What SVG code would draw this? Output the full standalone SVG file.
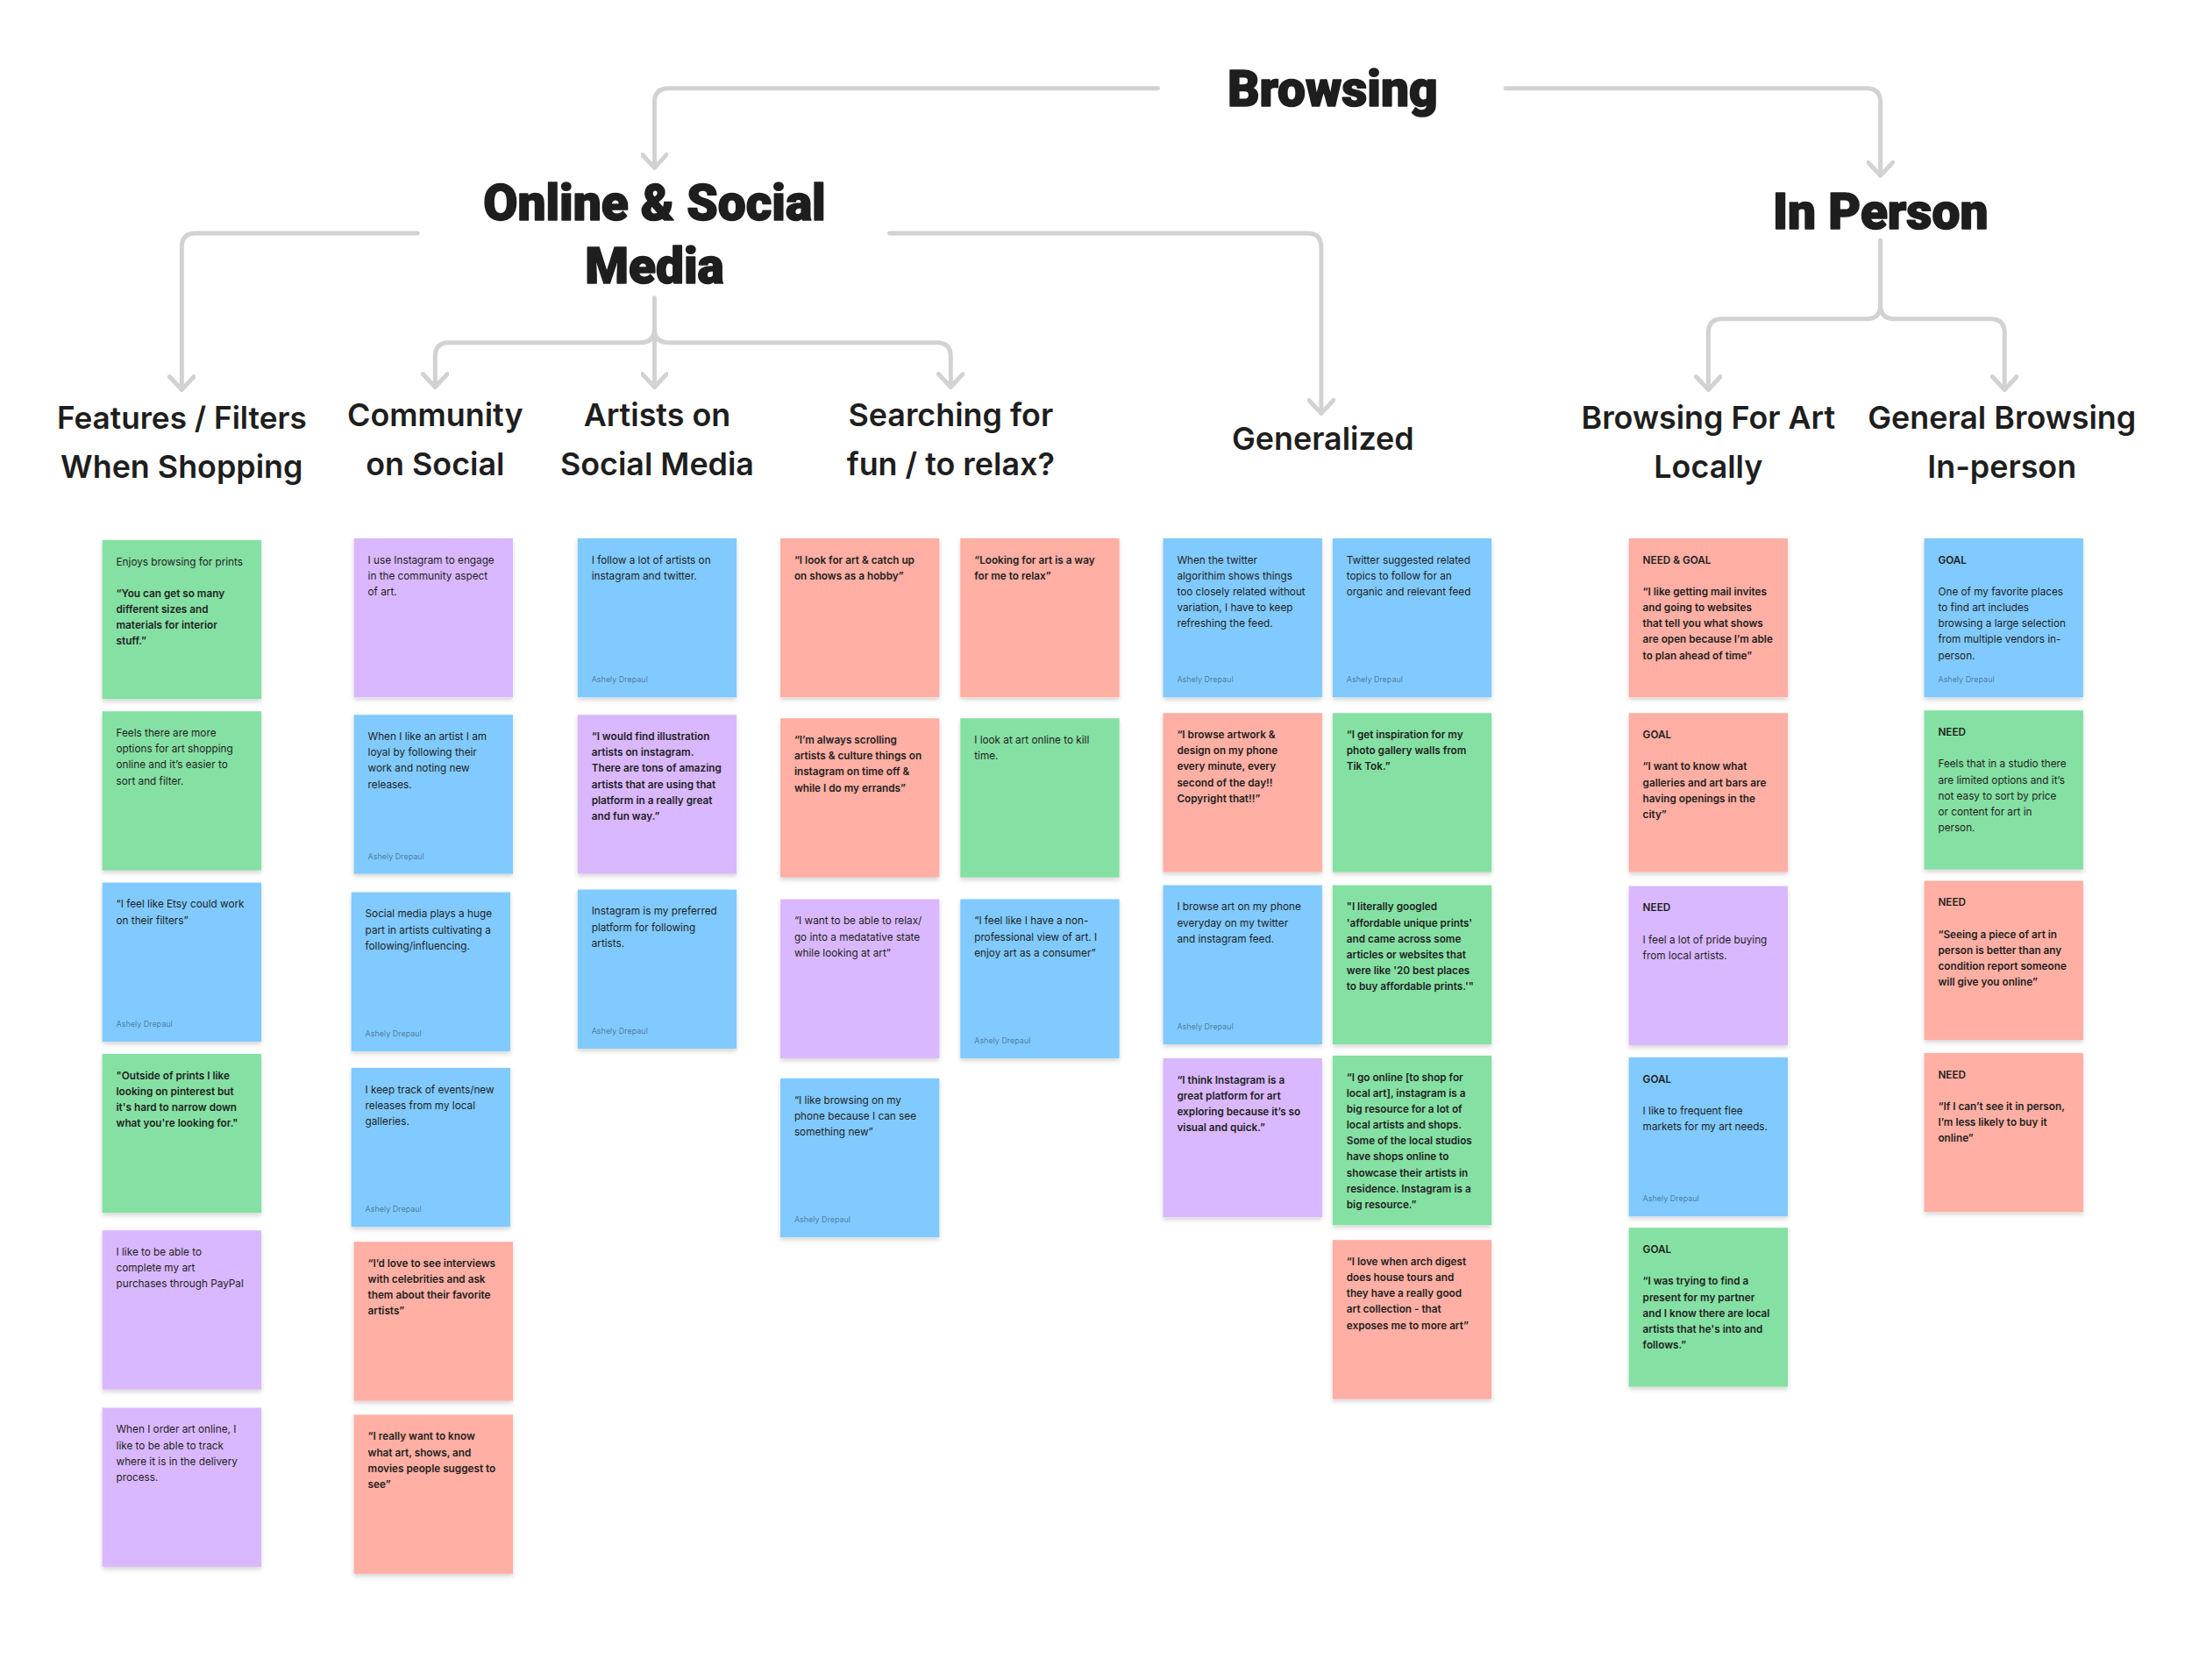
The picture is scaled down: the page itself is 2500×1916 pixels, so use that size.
<svg xmlns="http://www.w3.org/2000/svg" width="2500" height="1916" viewBox="0 0 2500 1916">
<defs>
<style>
.bg{fill:#ffffff}
.c{fill:none;stroke:#d2d2d2;stroke-width:5;stroke-linecap:round;stroke-linejoin:round}
.h1{font-family:Roboto,"Liberation Sans",sans-serif;font-weight:900;font-size:57px;fill:#1e1e1e;stroke:#1e1e1e;stroke-width:1.6;stroke-linejoin:round;text-anchor:middle}
.h2{font-family:Inter,"Liberation Sans",sans-serif;font-weight:600;font-size:36px;fill:#1e1e1e;text-anchor:middle}
.t{font-family:Inter,"Liberation Sans",sans-serif;font-size:11.8px;fill:#1e1e1e}
.b{font-weight:600}
.a{font-family:Inter,"Liberation Sans",sans-serif;font-size:9px;fill:#000;fill-opacity:.42}
.gr{fill:#85E0A3}
.bl{fill:#80CAFF}
.pu{fill:#D9B8FF}
.re{fill:#FFAFA3}
.n{filter:url(#sh)}
</style>
<filter id="sh" x="-10%" y="-10%" width="120%" height="125%">
<feDropShadow dx="0" dy="3" stdDeviation="2.5" flood-color="#000" flood-opacity="0.16"/>
</filter>
<marker id="ar" markerUnits="userSpaceOnUse" viewBox="-2 -16 24 32" refX="18" refY="0" markerWidth="24" markerHeight="32" orient="auto">
<path d="M3,-14 L18,0 L3,14" fill="none" stroke="#d2d2d2" stroke-width="5" stroke-linecap="round" stroke-linejoin="round"/>
</marker>
</defs>
<rect class="bg" x="0" y="0" width="2500" height="1916"/>
<g transform="scale(0.9966)">
<g id="connectors">
<path class="c" d="M1325,101 H765 Q749,101 749,117 V192" marker-end="url(#ar)"/>
<path class="c" d="M1723,101 H2136 Q2152,101 2152,117 V201" marker-end="url(#ar)"/>
<path class="c" d="M478,267 H224 Q208,267 208,283 V446" marker-end="url(#ar)"/>
<path class="c" d="M1018,267 H1496 Q1512,267 1512,283 V473" marker-end="url(#ar)"/>
<path class="c" d="M749,341 V443" marker-end="url(#ar)"/>
<path class="c" d="M749,376 Q749,392 733,392 H514 Q498,392 498,408 V443" marker-end="url(#ar)"/>
<path class="c" d="M749,376 Q749,392 765,392 H1072 Q1088,392 1088,408 V443" marker-end="url(#ar)"/>
<path class="c" d="M2152,275 V349"/>
<path class="c" d="M2152,349 Q2152,365 2136,365 H1971 Q1955,365 1955,381 V446" marker-end="url(#ar)"/>
<path class="c" d="M2152,349 Q2152,365 2168,365 H2278 Q2294,365 2294,381 V446" marker-end="url(#ar)"/>
</g>

<g id="browsing"><text class="h1" x="1525" y="121">Browsing</text></g>
<g id="online-social"><text class="h1" x="749" y="252">Online &amp; Social</text><text class="h1" x="749" y="324">Media</text></g>
<g id="in-person"><text class="h1" x="2152" y="262">In Person</text></g>

<g id="features"><text class="h2" x="208" y="491" style="font-size:35.3px">Features / Filters</text><text class="h2" x="208" y="547">When Shopping</text></g>
<g id="community"><text class="h2" x="498" y="488">Community</text><text class="h2" x="498" y="544">on Social</text></g>
<g id="artists"><text class="h2" x="752" y="488">Artists on</text><text class="h2" x="752" y="544">Social Media</text></g>
<g id="searching"><text class="h2" x="1088" y="488">Searching for</text><text class="h2" x="1088" y="544">fun / to relax?</text></g>
<g id="generalized"><text class="h2" x="1514" y="515">Generalized</text></g>
<g id="locally"><text class="h2" x="1955" y="491">Browsing For Art</text><text class="h2" x="1955" y="547">Locally</text></g>
<g id="general-in-person"><text class="h2" x="2291" y="491">General Browsing</text><text class="h2" x="2291" y="547">In-person</text></g>

<!-- Column 1 -->
<g id="n1-1" transform="translate(117,618)"><rect class="n gr" width="182" height="182"/><text class="t"><tspan x="16" y="29">Enjoys browsing for prints</tspan><tspan class="b" x="16" y="65.4">“You can get so many</tspan><tspan class="b" x="16" y="83.6">different sizes and</tspan><tspan class="b" x="16" y="101.8">materials for interior</tspan><tspan class="b" x="16" y="120">stuff.”</tspan></text></g>
<g id="n1-2" transform="translate(117,814)"><rect class="n gr" width="182" height="182"/><text class="t"><tspan x="16" y="29">Feels there are more</tspan><tspan x="16" y="47.2">options for art shopping</tspan><tspan x="16" y="65.4">online and it’s easier to</tspan><tspan x="16" y="83.6">sort and filter.</tspan></text></g>
<g id="n1-3" transform="translate(117,1010)"><rect class="n bl" width="182" height="182"/><text class="t"><tspan x="16" y="29">“I feel like Etsy could work</tspan><tspan x="16" y="47.2">on their filters”</tspan></text><text class="a" x="16" y="165">Ashely Drepaul</text></g>
<g id="n1-4" transform="translate(117,1206)"><rect class="n gr" width="182" height="182"/><text class="t b"><tspan x="16" y="29">"Outside of prints I like</tspan><tspan x="16" y="47.2">looking on pinterest but</tspan><tspan x="16" y="65.4">it's hard to narrow down</tspan><tspan x="16" y="83.6">what you're looking for."</tspan></text></g>
<g id="n1-5" transform="translate(117,1408)"><rect class="n pu" width="182" height="182"/><text class="t"><tspan x="16" y="29">I like to be able to</tspan><tspan x="16" y="47.2">complete my art</tspan><tspan x="16" y="65.4">purchases through PayPal</tspan></text></g>
<g id="n1-6" transform="translate(117,1611)"><rect class="n pu" width="182" height="182"/><text class="t"><tspan x="16" y="29">When I order art online, I</tspan><tspan x="16" y="47.2">like to be able to track</tspan><tspan x="16" y="65.4">where it is in the delivery</tspan><tspan x="16" y="83.6">process.</tspan></text></g>

<!-- Column 2 -->
<g id="n2-1" transform="translate(405,616)"><rect class="n pu" width="182" height="182"/><text class="t"><tspan x="16" y="29">I use Instagram to engage</tspan><tspan x="16" y="47.2">in the community aspect</tspan><tspan x="16" y="65.4">of art.</tspan></text></g>
<g id="n2-2" transform="translate(405,818)"><rect class="n bl" width="182" height="182"/><text class="t"><tspan x="16" y="29">When I like an artist I am</tspan><tspan x="16" y="47.2">loyal by following their</tspan><tspan x="16" y="65.4">work and noting new</tspan><tspan x="16" y="83.6">releases.</tspan></text><text class="a" x="16" y="165">Ashely Drepaul</text></g>
<g id="n2-3" transform="translate(402,1021)"><rect class="n bl" width="182" height="182"/><text class="t"><tspan x="16" y="29">Social media plays a huge</tspan><tspan x="16" y="47.2">part in artists cultivating a</tspan><tspan x="16" y="65.4">following/influencing.</tspan></text><text class="a" x="16" y="165">Ashely Drepaul</text></g>
<g id="n2-4" transform="translate(402,1222)"><rect class="n bl" width="182" height="182"/><text class="t"><tspan x="16" y="29">I keep track of events/new</tspan><tspan x="16" y="47.2">releases from my local</tspan><tspan x="16" y="65.4">galleries.</tspan></text><text class="a" x="16" y="165">Ashely Drepaul</text></g>
<g id="n2-5" transform="translate(405,1421)"><rect class="n re" width="182" height="182"/><text class="t b"><tspan x="16" y="29">“I’d love to see interviews</tspan><tspan x="16" y="47.2">with celebrities and ask</tspan><tspan x="16" y="65.4">them about their favorite</tspan><tspan x="16" y="83.6">artists”</tspan></text></g>
<g id="n2-6" transform="translate(405,1619)"><rect class="n re" width="182" height="182"/><text class="t b"><tspan x="16" y="29">“I really want to know</tspan><tspan x="16" y="47.2">what art, shows, and</tspan><tspan x="16" y="65.4">movies people suggest to</tspan><tspan x="16" y="83.6">see”</tspan></text></g>

<!-- Column 3 -->
<g id="n3-1" transform="translate(661,616)"><rect class="n bl" width="182" height="182"/><text class="t"><tspan x="16" y="29">I follow a lot of artists on</tspan><tspan x="16" y="47.2">instagram and twitter.</tspan></text><text class="a" x="16" y="165">Ashely Drepaul</text></g>
<g id="n3-2" transform="translate(661,818)"><rect class="n pu" width="182" height="182"/><text class="t b"><tspan x="16" y="29">“I would find illustration</tspan><tspan x="16" y="47.2">artists on instagram.</tspan><tspan x="16" y="65.4">There are tons of amazing</tspan><tspan x="16" y="83.6">artists that are using that</tspan><tspan x="16" y="101.8">platform in a really great</tspan><tspan x="16" y="120">and fun way.”</tspan></text></g>
<g id="n3-3" transform="translate(661,1018)"><rect class="n bl" width="182" height="182"/><text class="t"><tspan x="16" y="29">Instagram is my preferred</tspan><tspan x="16" y="47.2">platform for following</tspan><tspan x="16" y="65.4">artists.</tspan></text><text class="a" x="16" y="165">Ashely Drepaul</text></g>

<!-- Column 4 -->
<g id="n4-1" transform="translate(893,616)"><rect class="n re" width="182" height="182"/><text class="t b"><tspan x="16" y="29">“I look for art &amp; catch up</tspan><tspan x="16" y="47.2">on shows as a hobby”</tspan></text></g>
<g id="n4-2" transform="translate(893,822)"><rect class="n re" width="182" height="182"/><text class="t b"><tspan x="16" y="29">“I’m always scrolling</tspan><tspan x="16" y="47.2">artists &amp; culture things on</tspan><tspan x="16" y="65.4">instagram on time off &amp;</tspan><tspan x="16" y="83.6">while I do my errands”</tspan></text></g>
<g id="n4-3" transform="translate(893,1029)"><rect class="n pu" width="182" height="182"/><text class="t"><tspan x="16" y="29">“I want to be able to relax/</tspan><tspan x="16" y="47.2">go into a medatative state</tspan><tspan x="16" y="65.4">while looking at art”</tspan></text></g>
<g id="n4-4" transform="translate(893,1234)"><rect class="n bl" width="182" height="182"/><text class="t"><tspan x="16" y="29">“I like browsing on my</tspan><tspan x="16" y="47.2">phone because I can see</tspan><tspan x="16" y="65.4">something new”</tspan></text><text class="a" x="16" y="165">Ashely Drepaul</text></g>
<g id="n4-5" transform="translate(1099,616)"><rect class="n re" width="182" height="182"/><text class="t b"><tspan x="16" y="29">“Looking for art is a way</tspan><tspan x="16" y="47.2">for me to relax”</tspan></text></g>
<g id="n4-6" transform="translate(1099,822)"><rect class="n gr" width="182" height="182"/><text class="t"><tspan x="16" y="29">I look at art online to kill</tspan><tspan x="16" y="47.2">time.</tspan></text></g>
<g id="n4-7" transform="translate(1099,1029)"><rect class="n bl" width="182" height="182"/><text class="t"><tspan x="16" y="29">“I feel like I have a non-</tspan><tspan x="16" y="47.2">professional view of art. I</tspan><tspan x="16" y="65.4">enjoy art as a consumer”</tspan></text><text class="a" x="16" y="165">Ashely Drepaul</text></g>

<!-- Column 5 -->
<g id="n5-1" transform="translate(1331,616)"><rect class="n bl" width="182" height="182"/><text class="t"><tspan x="16" y="29">When the twitter</tspan><tspan x="16" y="47.2">algorithim shows things</tspan><tspan x="16" y="65.4">too closely related without</tspan><tspan x="16" y="83.6">variation, I have to keep</tspan><tspan x="16" y="101.8">refreshing the feed.</tspan></text><text class="a" x="16" y="165">Ashely Drepaul</text></g>
<g id="n5-2" transform="translate(1331,816)"><rect class="n re" width="182" height="182"/><text class="t b"><tspan x="16" y="29">“I browse artwork &amp;</tspan><tspan x="16" y="47.2">design on my phone</tspan><tspan x="16" y="65.4">every minute, every</tspan><tspan x="16" y="83.6">second of the day!!</tspan><tspan x="16" y="101.8">Copyright that!!”</tspan></text></g>
<g id="n5-3" transform="translate(1331,1013)"><rect class="n bl" width="182" height="182"/><text class="t"><tspan x="16" y="29">I browse art on my phone</tspan><tspan x="16" y="47.2">everyday on my twitter</tspan><tspan x="16" y="65.4">and instagram feed.</tspan></text><text class="a" x="16" y="165">Ashely Drepaul</text></g>
<g id="n5-4" transform="translate(1331,1211)"><rect class="n pu" width="182" height="182"/><text class="t b"><tspan x="16" y="29">“I think Instagram is a</tspan><tspan x="16" y="47.2">great platform for art</tspan><tspan x="16" y="65.4">exploring because it’s so</tspan><tspan x="16" y="83.6">visual and quick.”</tspan></text></g>
<g id="n5-5" transform="translate(1525,616)"><rect class="n bl" width="182" height="182"/><text class="t"><tspan x="16" y="29">Twitter suggested related</tspan><tspan x="16" y="47.2">topics to follow for an</tspan><tspan x="16" y="65.4">organic and relevant feed</tspan></text><text class="a" x="16" y="165">Ashely Drepaul</text></g>
<g id="n5-6" transform="translate(1525,816)"><rect class="n gr" width="182" height="182"/><text class="t b"><tspan x="16" y="29">“I get inspiration for my</tspan><tspan x="16" y="47.2">photo gallery walls from</tspan><tspan x="16" y="65.4">Tik Tok.”</tspan></text></g>
<g id="n5-7" transform="translate(1525,1013)"><rect class="n gr" width="182" height="182"/><text class="t b"><tspan x="16" y="29">"I literally googled</tspan><tspan x="16" y="47.2">'affordable unique prints'</tspan><tspan x="16" y="65.4">and came across some</tspan><tspan x="16" y="83.6">articles or websites that</tspan><tspan x="16" y="101.8">were like '20 best places</tspan><tspan x="16" y="120">to buy affordable prints.'"</tspan></text></g>
<g id="n5-8" transform="translate(1525,1208)"><rect class="n gr" width="182" height="194"/><text class="t b"><tspan x="16" y="29">“I go online [to shop for</tspan><tspan x="16" y="47.2">local art], instagram is a</tspan><tspan x="16" y="65.4">big resource for a lot of</tspan><tspan x="16" y="83.6">local artists and shops.</tspan><tspan x="16" y="101.8">Some of the local studios</tspan><tspan x="16" y="120">have shops online to</tspan><tspan x="16" y="138.2">showcase their artists in</tspan><tspan x="16" y="156.4">residence. Instagram is a</tspan><tspan x="16" y="174.6">big resource.”</tspan></text></g>
<g id="n5-9" transform="translate(1525,1419)"><rect class="n re" width="182" height="182"/><text class="t b"><tspan x="16" y="29">“I love when arch digest</tspan><tspan x="16" y="47.2">does house tours and</tspan><tspan x="16" y="65.4">they have a really good</tspan><tspan x="16" y="83.6">art collection - that</tspan><tspan x="16" y="101.8">exposes me to more art”</tspan></text></g>

<!-- Column 6 -->
<g id="n6-1" transform="translate(1864,616)"><rect class="n re" width="182" height="182"/><text class="t b"><tspan x="16" y="29">NEED &amp; GOAL</tspan><tspan x="16" y="65.4">“I like getting mail invites</tspan><tspan x="16" y="83.6">and going to websites</tspan><tspan x="16" y="101.8">that tell you what shows</tspan><tspan x="16" y="120">are open because I’m able</tspan><tspan x="16" y="138.2">to plan ahead of time”</tspan></text></g>
<g id="n6-2" transform="translate(1864,816)"><rect class="n re" width="182" height="182"/><text class="t b"><tspan x="16" y="29">GOAL</tspan><tspan x="16" y="65.4">“I want to know what</tspan><tspan x="16" y="83.6">galleries and art bars are</tspan><tspan x="16" y="101.8">having openings in the</tspan><tspan x="16" y="120">city”</tspan></text></g>
<g id="n6-3" transform="translate(1864,1014)"><rect class="n pu" width="182" height="182"/><text class="t"><tspan class="b" x="16" y="29">NEED</tspan><tspan x="16" y="65.4">I feel a lot of pride buying</tspan><tspan x="16" y="83.6">from local artists.</tspan></text></g>
<g id="n6-4" transform="translate(1864,1210)"><rect class="n bl" width="182" height="182"/><text class="t"><tspan class="b" x="16" y="29">GOAL</tspan><tspan x="16" y="65.4">I like to frequent flee</tspan><tspan x="16" y="83.6">markets for my art needs.</tspan></text><text class="a" x="16" y="165">Ashely Drepaul</text></g>
<g id="n6-5" transform="translate(1864,1405)"><rect class="n gr" width="182" height="182"/><text class="t b"><tspan x="16" y="29">GOAL</tspan><tspan x="16" y="65.4">“I was trying to find a</tspan><tspan x="16" y="83.6">present for my partner</tspan><tspan x="16" y="101.8">and I know there are local</tspan><tspan x="16" y="120">artists that he's into and</tspan><tspan x="16" y="138.2">follows.”</tspan></text></g>

<!-- Column 7 -->
<g id="n7-1" transform="translate(2202,616)"><rect class="n bl" width="182" height="182"/><text class="t"><tspan class="b" x="16" y="29">GOAL</tspan><tspan x="16" y="65.4">One of my favorite places</tspan><tspan x="16" y="83.6">to find art includes</tspan><tspan x="16" y="101.8">browsing a large selection</tspan><tspan x="16" y="120">from multiple vendors in-</tspan><tspan x="16" y="138.2">person.</tspan></text><text class="a" x="16" y="165">Ashely Drepaul</text></g>
<g id="n7-2" transform="translate(2202,813)"><rect class="n gr" width="182" height="182"/><text class="t"><tspan class="b" x="16" y="29">NEED</tspan><tspan x="16" y="65.4">Feels that in a studio there</tspan><tspan x="16" y="83.6">are limited options and it’s</tspan><tspan x="16" y="101.8">not easy to sort by price</tspan><tspan x="16" y="120">or content for art in</tspan><tspan x="16" y="138.2">person.</tspan></text></g>
<g id="n7-3" transform="translate(2202,1008)"><rect class="n re" width="182" height="182"/><text class="t b"><tspan x="16" y="29">NEED</tspan><tspan x="16" y="65.4">“Seeing a piece of art in</tspan><tspan x="16" y="83.6">person is better than any</tspan><tspan x="16" y="101.8">condition report someone</tspan><tspan x="16" y="120">will give you online”</tspan></text></g>
<g id="n7-4" transform="translate(2202,1205)"><rect class="n re" width="182" height="182"/><text class="t b"><tspan x="16" y="29">NEED</tspan><tspan x="16" y="65.4">“If I can’t see it in person,</tspan><tspan x="16" y="83.6">I’m less likely to buy it</tspan><tspan x="16" y="101.8">online”</tspan></text></g>
</g>
</svg>
